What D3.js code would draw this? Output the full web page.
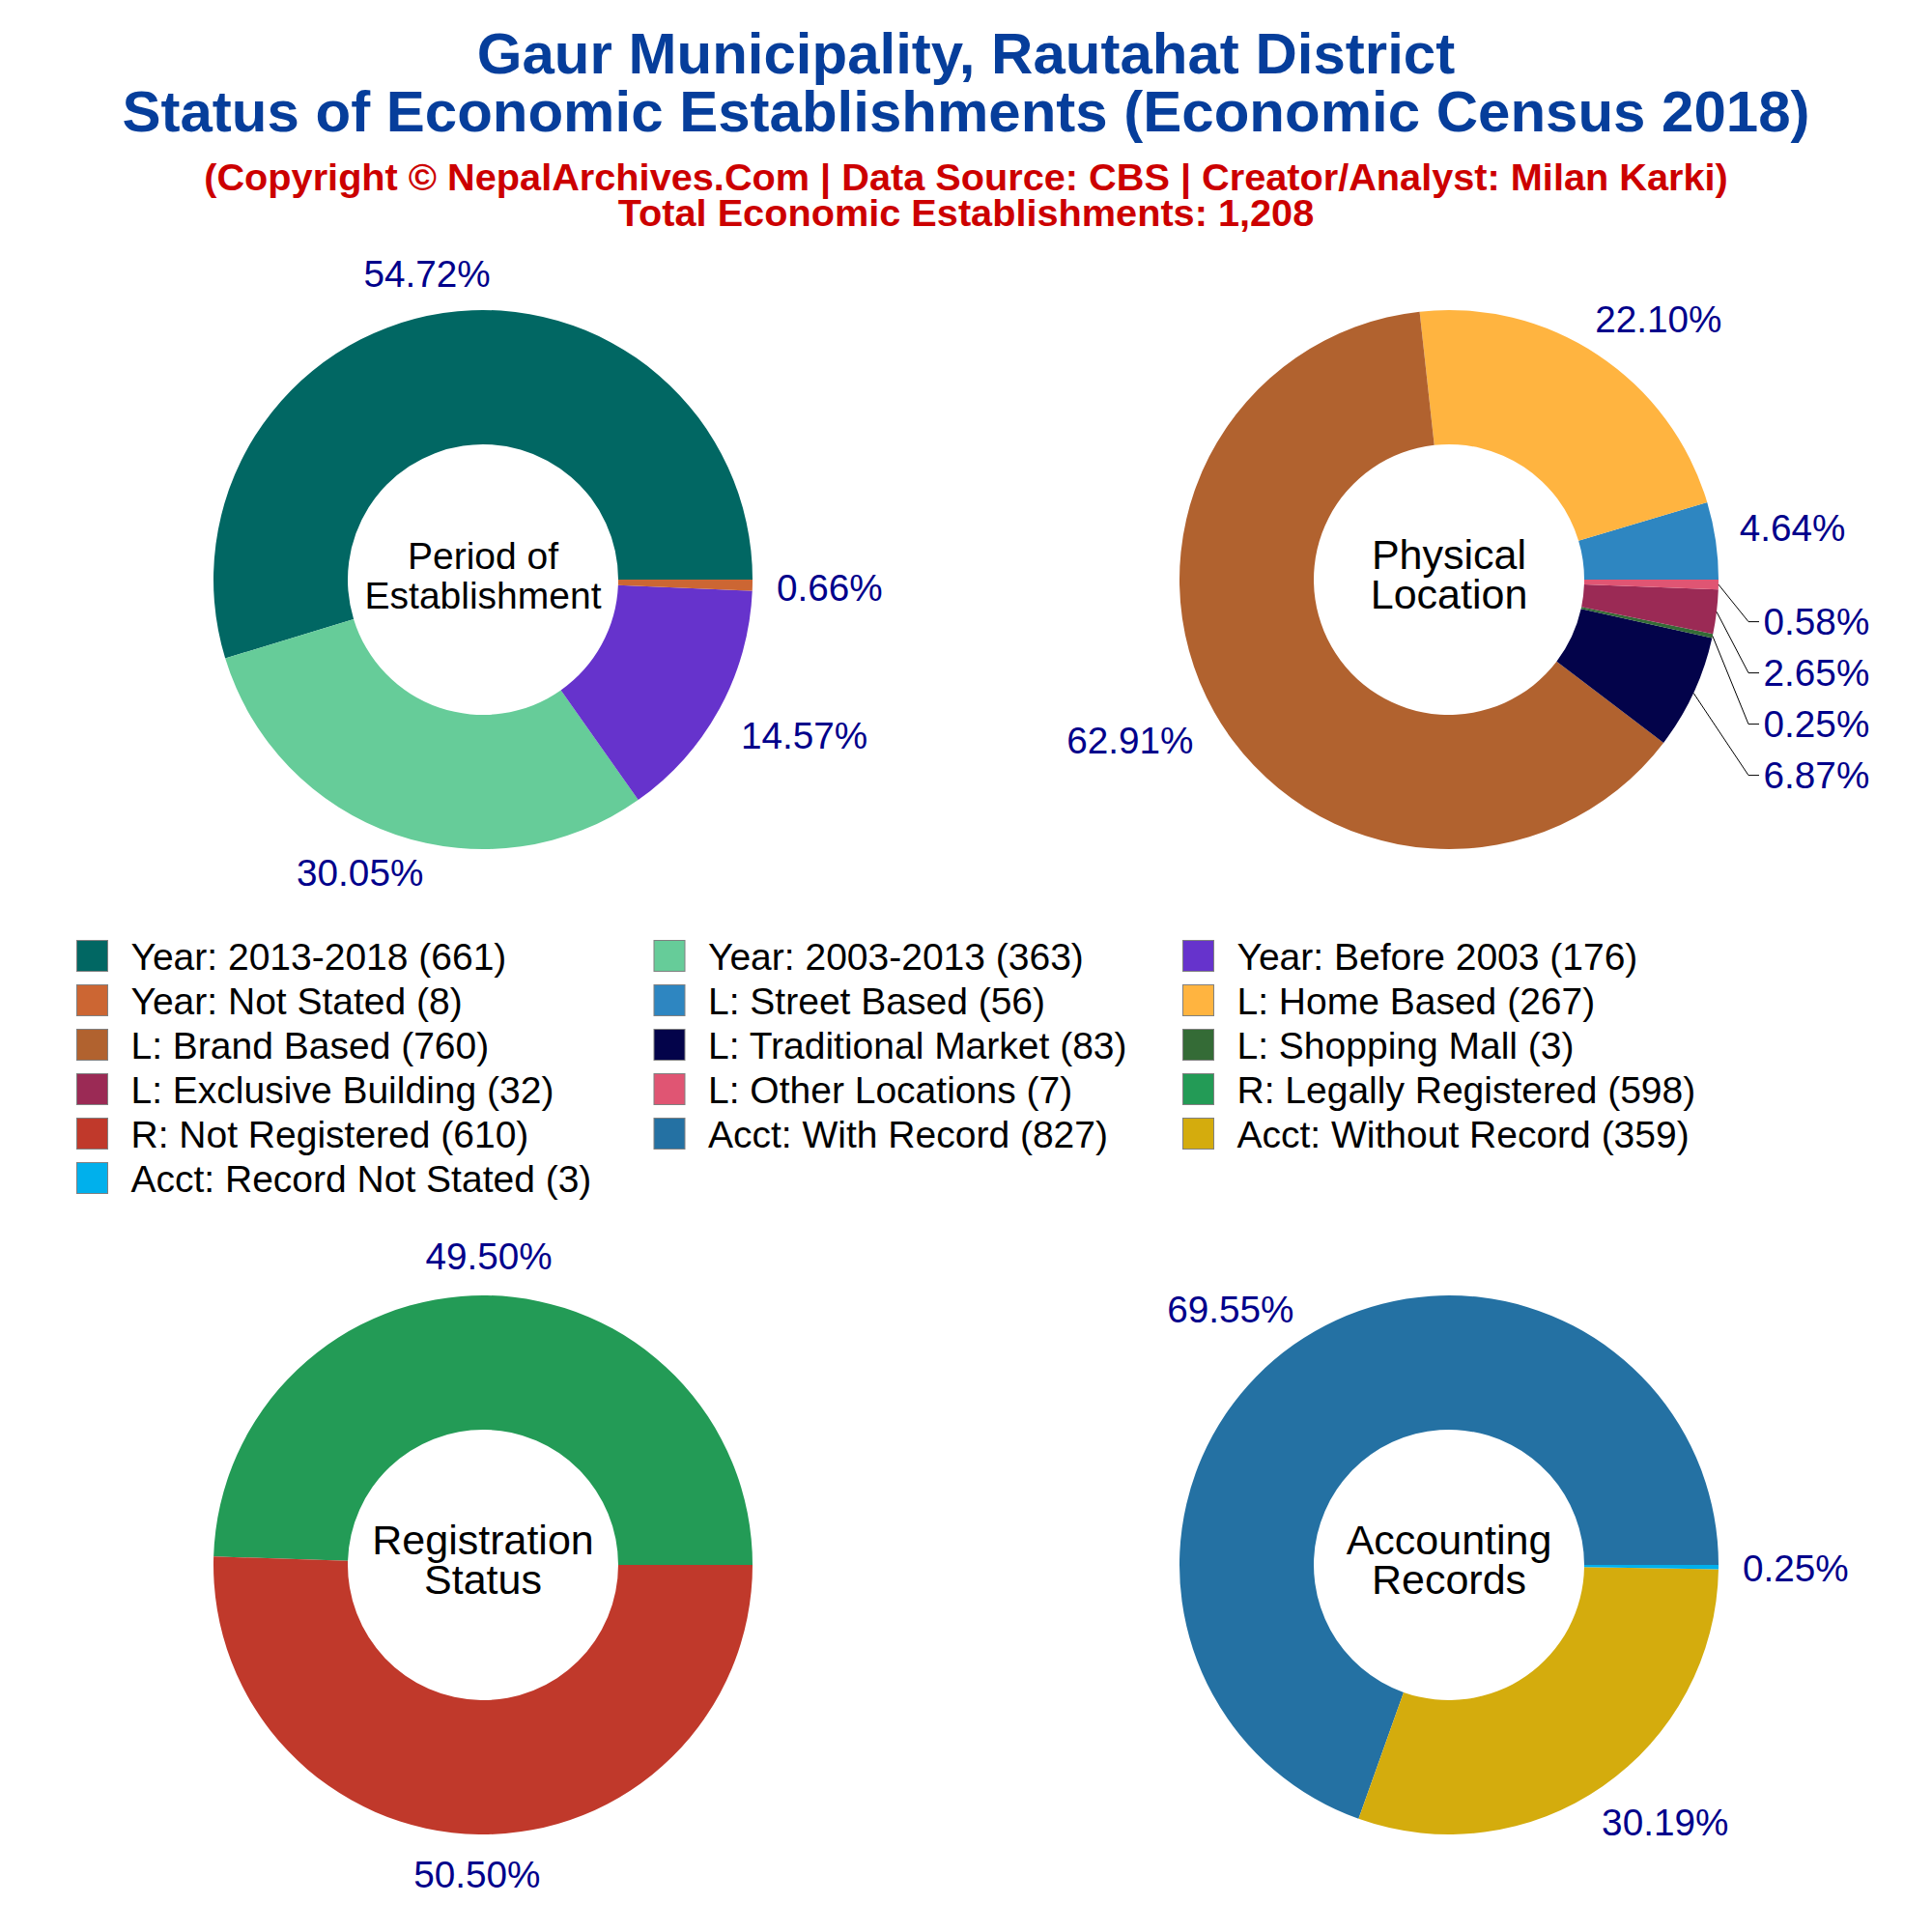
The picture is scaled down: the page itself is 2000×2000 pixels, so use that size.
<!DOCTYPE html>
<html><head><meta charset="utf-8">
<script src="https://cdn.jsdelivr.net/npm/d3@7"></script>
<style>
body{margin:0;background:#fff}
svg{display:block}
text{font-family:"Liberation Sans",Arial,Helvetica,sans-serif}
</style>
</head><body>
<svg id="chart" width="2000" height="2000"></svg>
<script>
// ---------------- DATA ----------------
const titleLines = ["Gaur Municipality, Rautahat District", "Status of Economic Establishments (Economic Census 2018)"];
const subtitleLines = ["(Copyright \u00A9 NepalArchives.Com | Data Source: CBS | Creator/Analyst: Milan Karki)", "Total Economic Establishments: 1,208"];

const periodCategories = ["2013-2018", "2003-2013", "Before 2003", "Not Stated"];
const periodValues = [661, 363, 176, 8];
const periodColors = ["#016763", "#66CC99", "#6633CC", "#CC6633"];

const locationCategories = ["Street Based", "Home Based", "Brand Based", "Traditional Market", "Shopping Mall", "Exclusive Building", "Other Locations"];
const locationValues = [56, 267, 760, 83, 3, 32, 7];
const locationColors = ["#2E86C1", "#FFB440", "#B1622F", "#03034A", "#346B36", "#9B2A55", "#E05573"];

const registrationCategories = ["Legally Registered", "Not Registered"];
const registrationValues = [598, 610];
const registrationColors = ["#239B56", "#C0392B"];

const accountingCategories = ["With Record", "Without Record", "Record Not Stated"];
const accountingValues = [827, 359, 3];
const accountingColors = ["#2471A3", "#D4AC0D", "#00B0EC"];

// ---------------- LAYOUT ----------------
const charts = [
  {prefix: "Year: ", cats: periodCategories, vals: periodValues, colors: periodColors, center: ["Period of", "Establishment"], cfs: 39, cx: 500, cy: 600},
  {prefix: "L: ", cats: locationCategories, vals: locationValues, colors: locationColors, center: ["Physical", "Location"], cfs: 43, cx: 1500, cy: 600},
  {prefix: "R: ", cats: registrationCategories, vals: registrationValues, colors: registrationColors, center: ["Registration", "Status"], cfs: 43, cx: 500, cy: 1620},
  {prefix: "Acct: ", cats: accountingCategories, vals: accountingValues, colors: accountingColors, center: ["Accounting", "Records"], cfs: 43, cx: 1500, cy: 1620}
];

const svg = d3.select("#chart");
svg.append("rect").attr("width", 2000).attr("height", 2000).attr("fill", "#fff");

// Titles
const TITLE_BLUE = "#063E9B", RED = "#CC0000";
svg.selectAll("text.title").data(titleLines).join("text")
  .attr("class", "title").attr("x", 1000).attr("y", (d, i) => 76 + i * 60)
  .attr("text-anchor", "middle").attr("font-size", 60).attr("font-weight", "bold")
  .attr("fill", TITLE_BLUE).text(d => d);
svg.selectAll("text.subtitle").data(subtitleLines).join("text")
  .attr("class", "subtitle").attr("x", 1000).attr("y", (d, i) => 197 + i * 37)
  .attr("text-anchor", "middle").attr("font-size", 39.7).attr("font-weight", "bold")
  .attr("fill", RED).text(d => d);

// Donuts
const R = 279, R0 = 140, GAP = 25, FS = 38.7, CROSS = 97, STACK = 53;
const pie = d3.pie().sort(null).value(d => d.value)
  .startAngle(Math.PI / 2).endAngle(Math.PI / 2 - 2 * Math.PI);
const arc = d3.arc().innerRadius(R0).outerRadius(R);

charts.forEach(ch => {
  const g = svg.append("g").attr("transform", `translate(${ch.cx},${ch.cy})`);
  const data = ch.cats.map((c, i) => ({cat: c, value: ch.vals[i], color: ch.colors[i]}));
  const total = d3.sum(ch.vals);
  const arcs = pie(data);
  g.selectAll("path.slice").data(arcs).join("path").attr("class", "slice")
    .attr("d", arc).attr("fill", d => d.data.color);

  const labels = arcs.map(a => {
    const m = (a.startAngle + a.endAngle) / 2;
    const ux = Math.sin(m), uy = -Math.cos(m);
    const t = g.append("text").attr("font-size", FS).attr("fill", "#00008B")
      .attr("text-anchor", "middle").text((a.value / total * 100).toFixed(2) + "%");
    const w = t.node().getComputedTextLength();
    const x = (R + GAP) * ux + Math.sign(ux) * Math.min(1, 1.35 * Math.abs(ux)) * w / 2;
    const y = (R + GAP) * uy + Math.sign(uy) * 16 * Math.min(1, 4 * Math.abs(uy));
    return {t, ux, uy, x, y, moved: false};
  });

  [1, -1].forEach(side => {
    const sideL = labels.filter(l => side > 0 ? l.ux >= 0 : l.ux < 0);
    const top = sideL.filter(l => l.uy < 0).sort((a, b) => b.y - a.y);
    const bot = sideL.filter(l => l.uy >= 0).sort((a, b) => a.y - b.y);
    let limit = top.length ? top[0].y + CROSS : -Infinity;
    bot.forEach(l => {
      if (l.y < limit) { l.y = limit; l.moved = true; }
      limit = l.y + STACK;
    });
  });

  labels.forEach(l => {
    if (l.moved) {
      const s = l.ux >= 0 ? 1 : -1;
      g.append("path")
        .attr("d", `M${R * l.ux},${R * l.uy}L${s * (R + 31)},${l.y}H${s * (R + 42)}`)
        .attr("fill", "none").attr("stroke", "#000").attr("stroke-width", 1);
      l.t.attr("text-anchor", s > 0 ? "start" : "end")
        .attr("x", s * (R + 46.6)).attr("y", l.y + 0.358 * FS);
    } else {
      l.t.attr("x", l.x).attr("y", l.y + 0.358 * FS);
    }
  });

  g.selectAll("text.center").data(ch.center).join("text").attr("class", "center")
    .attr("x", 0).attr("y", (d, i) => -11 + i * 41)
    .attr("text-anchor", "middle").attr("font-size", ch.cfs).attr("fill", "#000").text(d => d);
});

// Legend
const legendItems = [];
charts.forEach(ch => ch.cats.forEach((c, i) => legendItems.push({
  label: `${ch.prefix}${c} (${ch.vals[i]})`, color: ch.colors[i]})));
const colX = [79.5, 677, 1224.5];
const lg = svg.append("g");
const li = lg.selectAll("g.item").data(legendItems).join("g").attr("class", "item")
  .attr("transform", (d, i) => `translate(${colX[i % 3]},${989.5 + Math.floor(i / 3) * 46})`);
li.append("rect").attr("x", 0).attr("y", -16).attr("width", 32).attr("height", 32)
  .attr("fill", d => d.color).attr("stroke", "#808080").attr("stroke-width", 1);
li.append("text").attr("x", 56).attr("y", 14.5).attr("font-size", 39).attr("fill", "#000")
  .text(d => d.label);
</script>
</body></html>
